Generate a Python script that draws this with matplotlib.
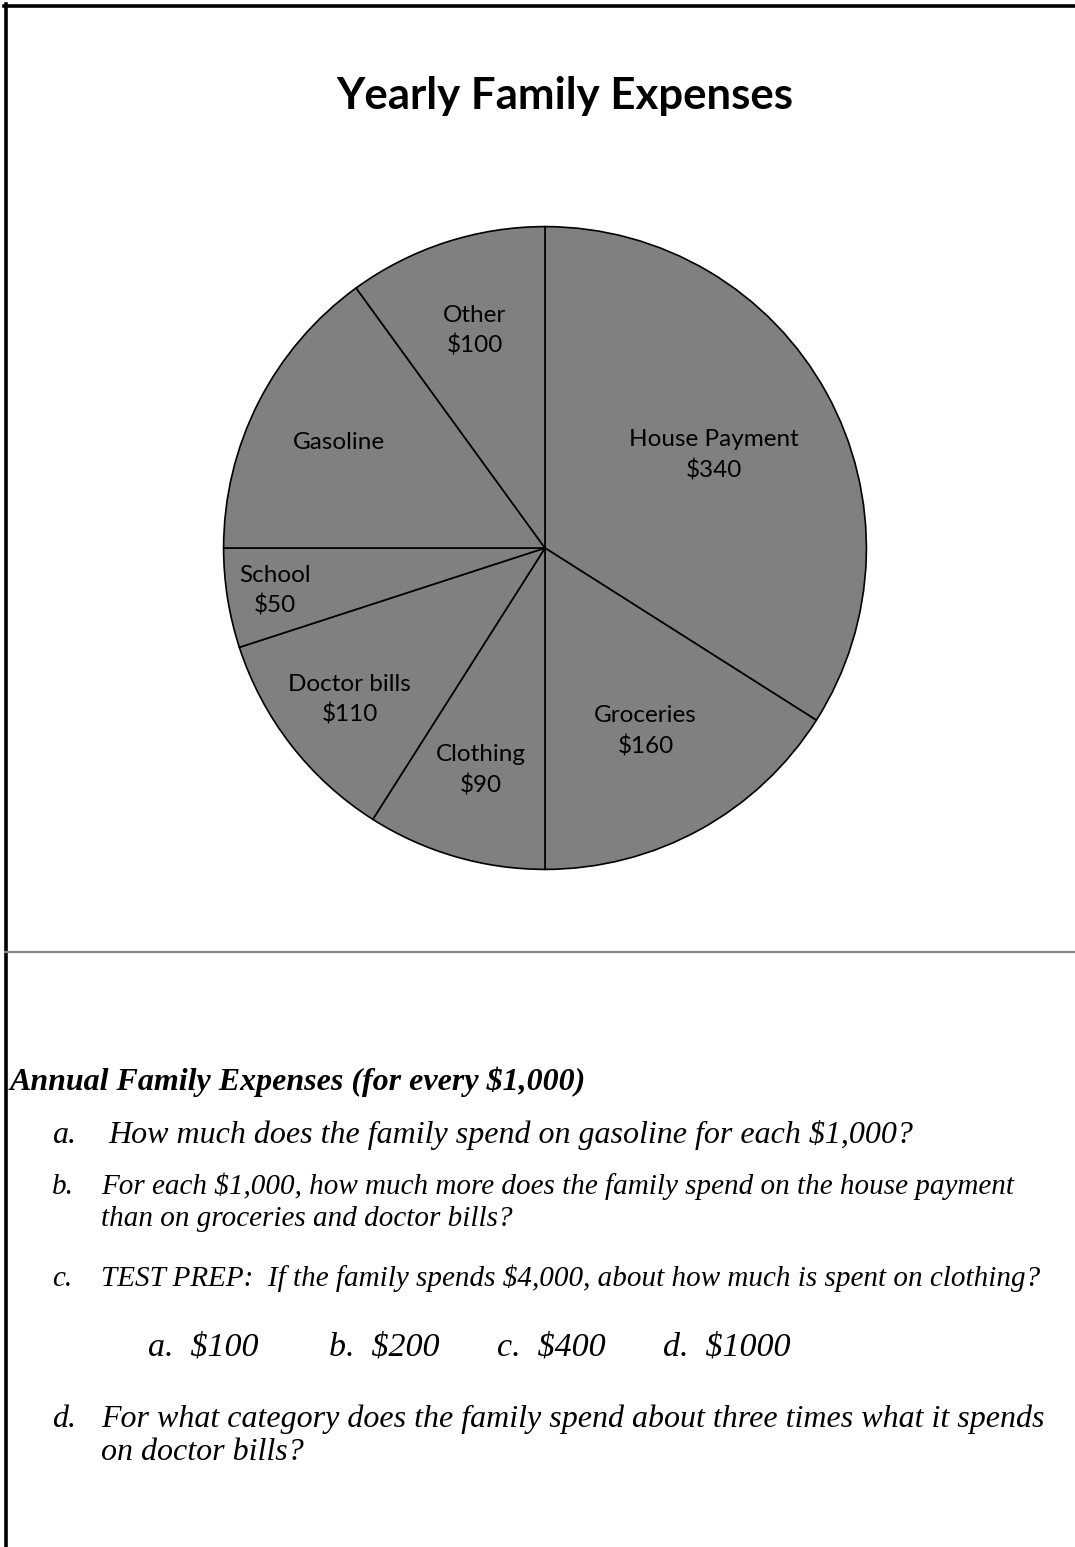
import matplotlib.pyplot as plt
from matplotlib.lines import Line2D
import numpy as np

categories = ['House Payment', 'Groceries', 'Clothing', 'Doctor bills',
              'School', 'Gasoline', 'Other']
values = [340, 160, 90, 110, 50, 150, 100]
show_value = [True, True, True, True, True, False, True]

# label distance from centre, per slice (as placed in the original)
label_r = [0.60, 0.65, 0.72, 0.77, 0.85, 0.72, 0.71]

W, H = 1075, 1547
fig = plt.figure(figsize=(W / 100, H / 100), dpi=100)

labels = [c + ('\n$%d' % v if s else '') for c, v, s in zip(categories, values, show_value)]

cx, cy, r = 545, 548, 323
ax = fig.add_axes(((cx - r) / W, (H - cy - r) / H, 2 * r / W, 2 * r / H))
wedges, texts = ax.pie(values, labels=labels, startangle=90, counterclock=False,
                       colors=['#808080'] * len(values),
                       wedgeprops=dict(edgecolor='black', linewidth=1.2),
                       labeldistance=0.7,
                       textprops=dict(family='Lato', fontsize=17.5, linespacing=1.5))
for w, t, d in zip(wedges, texts, label_r):
    ang = np.deg2rad((w.theta1 + w.theta2) / 2)
    t.set_position((d * np.cos(ang), d * np.sin(ang)))
    t.set_ha('center')
    t.set_va('center')
ax.set_xlim(-1.005, 1.005)
ax.set_ylim(-1.005, 1.005)
ax.set_aspect('equal')
ax.axis('off')

fig.text(565 / W, 1 - 96 / H, 'Yearly Family Expenses', ha='center', va='center',
         family='Lato', fontweight='bold', fontsize=31.5)

# frame lines
def px_line(x0, y0, x1, y1, color, lw):
    fig.add_artist(Line2D([x0 / W, x1 / W], [1 - y0 / H, 1 - y1 / H],
                          transform=fig.transFigure, color=color, linewidth=lw))

px_line(4, 6, W, 6, 'black', 2.6)
px_line(6, 4, 6, H, 'black', 2.6)
px_line(5, 952, W, 952, '#888888', 1.6)

serif = dict(family='Liberation Serif', style='italic', va='baseline')

fig.text(10 / W, 1 - 1090 / H, 'Annual Family Expenses (for every $1,000)',
         fontweight='bold', fontsize=23, **serif)

fig.text(52 / W, 1 - 1143 / H, 'a.', fontsize=23, **serif)
fig.text(108 / W, 1 - 1143 / H, 'How much does the family spend on gasoline for each $1,000?',
         fontsize=23, **serif)

fig.text(52 / W, 1 - 1194 / H, 'b.', fontsize=21, **serif)
fig.text(101 / W, 1 - 1194 / H,
         'For each $1,000, how much more does the family spend on the house payment',
         fontsize=21, **serif)
fig.text(101 / W, 1 - 1226 / H, 'than on groceries and doctor bills?', fontsize=21, **serif)

fig.text(52 / W, 1 - 1286 / H, 'c.', fontsize=21, **serif)
fig.text(101 / W, 1 - 1286 / H,
         'TEST PREP:  If the family spends $4,000, about how much is spent on clothing?',
         fontsize=21, **serif)

answers = ['a.  $100', 'b.  $200', 'c.  $400', 'd.  $1000']
answer_x = [148, 329, 497, 663]
for a, x in zip(answers, answer_x):
    fig.text(x / W, 1 - 1356 / H, a, fontsize=24.5, **serif)

fig.text(52 / W, 1 - 1427 / H, 'd.', fontsize=23, **serif)
fig.text(101 / W, 1 - 1427 / H,
         'For what category does the family spend about three times what it spends',
         fontsize=23, **serif)
fig.text(101 / W, 1 - 1460 / H, 'on doctor bills?', fontsize=23, **serif)

fig.savefig('out.png', dpi=100, facecolor='white')
